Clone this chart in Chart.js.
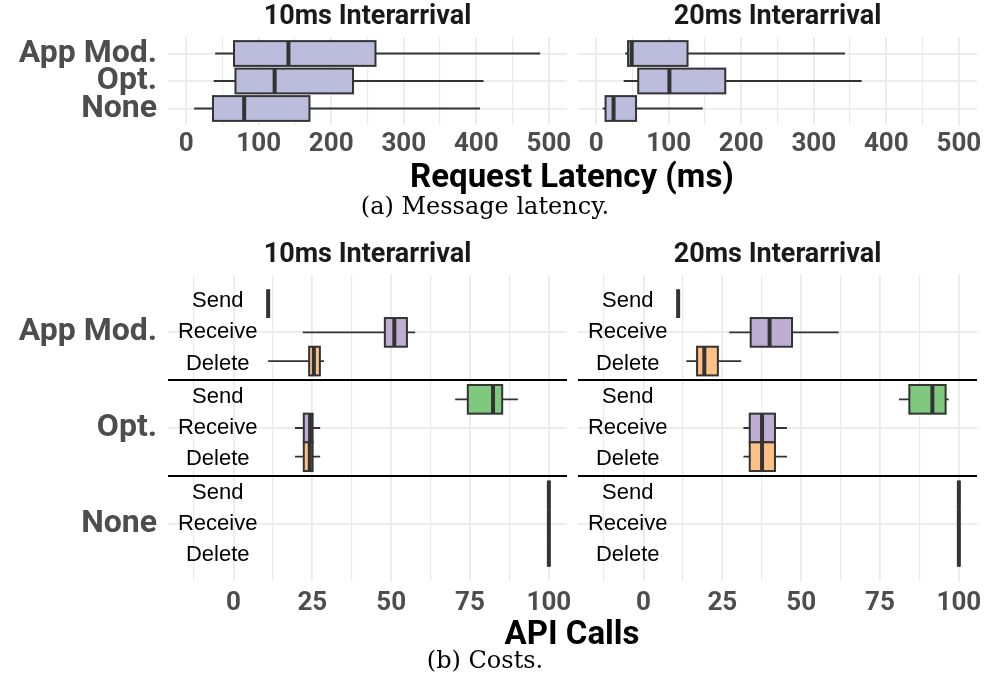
<!DOCTYPE html>
<html>
<head>
<meta charset="utf-8">
<title>Latency and API calls</title>
<script src="https://cdn.jsdelivr.net/npm/chart.js@4.4.1/dist/chart.umd.min.js"></script>
<style>
  body { margin: 0; background: #fff; width: 992px; height: 675px; position: relative; overflow: hidden; }
  canvas { position: absolute; }
  .txt { position: absolute; transform: translate(-50%, -50%); white-space: nowrap; }
  .axis-title { font: 700 33px Roboto, sans-serif; color: #000; }
  .caption { font: 24px "DejaVu Serif", serif; color: #000; }
</style>
</head>
<body>
<canvas id="lat10" width="572" height="165" style="left:0;top:0"></canvas>
<canvas id="lat20" width="420" height="165" style="left:572px;top:0"></canvas>
<div class="txt axis-title" style="left:572px;top:175px">Request Latency (ms)</div>
<div class="txt caption" style="left:485px;top:206px">(a) Message latency.</div>

<canvas id="api10" width="572" height="383" style="left:0;top:238px"></canvas>
<canvas id="api20" width="420" height="383" style="left:572px;top:238px"></canvas>
<div class="txt axis-title" style="left:572px;top:632px">API Calls</div>
<div class="txt caption" style="left:485px;top:660px">(b) Costs.</div>

<script>
const groups = ['App Mod.', 'Opt.', 'None'];
const calls = ['Send', 'Receive', 'Delete'];
const callColors = ['#7fc97f', '#beaed4', '#fdc086'];

// box stats: [lower whisker, q1, median, q3, upper whisker], one row per group
const latency10 = [
  [40, 66, 141, 261, 488],
  [38, 68, 122, 230, 410],
  [11, 37, 80, 170, 405]
];
const latency20 = [
  [40, 44, 49, 126, 343],
  [38, 58, 101, 178, 366],
  [9, 13, 24, 55, 147]
];

// per group: Send, Receive, Delete
const apiCalls10 = [
  [[11, 11, 11, 11, 11], [22, 48, 51, 55, 57.6], [11, 24, 25.5, 27.4, 28.7]],
  [[70.3, 74.3, 82.3, 85.2, 90.2], [19.5, 22.3, 24.3, 25.1, 27.5], [19.5, 22.3, 24.2, 25.1, 27.5]],
  [[100, 100, 100, 100, 100], [100, 100, 100, 100, 100], [100, 100, 100, 100, 100]]
];
const apiCalls20 = [
  [[11, 11, 11, 11, 11], [27.2, 34, 40, 47.1, 61.9], [13.6, 17, 19.3, 23.6, 31]],
  [[81, 84.3, 91.6, 95.8, 96.8], [31.7, 33.7, 37.6, 41.7, 45.5], [31.7, 33.7, 37.6, 41.7, 45.5]],
  [[100, 100, 100, 100, 100], [100, 100, 100, 100, 100], [100, 100, 100, 100, 100]]
];

const latencyTicks = [0, 100, 200, 300, 400, 500];
const callTicks = [0, 25, 50, 75, 100];

const BOLD = 'Roboto, sans-serif';
const GRID = '#ebebeb';

// draws box-and-whisker rows, group separators and row labels on top of the grid
function boxLayer(rows, extra) {
  return {
    id: 'boxLayer',
    beforeDatasetsDraw(chart) {
      const { ctx, chartArea: area, scales: { x, y } } = chart;
      const px = v => x.getPixelForValue(v);
      ctx.save();

      (extra.separators || []).forEach(v => {
        const py = Math.round(y.getPixelForValue(v));
        ctx.strokeStyle = '#000';
        ctx.lineWidth = 2;
        ctx.beginPath();
        ctx.moveTo(area.left, py);
        ctx.lineTo(area.right, py);
        ctx.stroke();
      });

      rows.forEach(r => {
        const [lo, q1, med, q3, hi] = r.stats;
        const yc = y.getPixelForValue(r.pos);
        const yt = y.getPixelForValue(r.pos + r.half);
        const yb = y.getPixelForValue(r.pos - r.half);
        ctx.strokeStyle = '#333';
        ctx.lineWidth = 1.8;
        ctx.beginPath();
        ctx.moveTo(px(lo), yc); ctx.lineTo(px(q1), yc);
        ctx.moveTo(px(q3), yc); ctx.lineTo(px(hi), yc);
        ctx.stroke();

        ctx.fillStyle = r.fill;
        ctx.fillRect(px(q1), yt, px(q3) - px(q1), yb - yt);
        ctx.lineWidth = 2;
        ctx.strokeRect(px(q1), yt, px(q3) - px(q1), yb - yt);

        ctx.lineWidth = 4;
        ctx.beginPath();
        ctx.moveTo(px(med), yt);
        ctx.lineTo(px(med), yb);
        ctx.stroke();
      });

      (extra.labels || []).forEach(l => {
        ctx.fillStyle = '#000';
        ctx.font = '22px "Liberation Sans", Arial, sans-serif';
        ctx.textAlign = 'center';
        ctx.textBaseline = 'middle';
        ctx.fillText(l.text, px(l.x), y.getPixelForValue(l.y));
      });
      ctx.restore();
    }
  };
}

// grid positions: every major tick plus the midpoints between them
function gridValues(majors, min, max) {
  const step = majors[1] - majors[0];
  const vals = [];
  for (let v = majors[0] - step / 2; v <= max; v += step / 2) {
    if (v >= min) vals.push(v);
  }
  return vals;
}

function makeChart(id, opts) {
  const { title, majors, min, max, rows, extra, showGroups, yWidth, padRight, tickPad } = opts;
  const grid = gridValues(majors, min, max);
  new Chart(document.getElementById(id), {
    type: 'scatter',
    data: { datasets: [] },
    options: {
      responsive: false,
      animation: false,
      events: [],
      layout: { padding: { left: 0, right: padRight, top: 0, bottom: 0 } },
      scales: {
        x: {
          type: 'linear',
          min: min,
          max: max,
          afterBuildTicks: s => { s.ticks = grid.map(v => ({ value: v })); },
          afterFit: s => { s.height = 40; s.paddingLeft = 0; s.paddingRight = 0; },
          ticks: {
            autoSkip: false,
            maxRotation: 0,
            padding: tickPad,
            color: '#4d4d4d',
            font: { family: BOLD, size: 26, weight: 'bold' },
            callback: v => (majors.includes(v) ? String(v) : '')
          },
          grid: {
            color: GRID,
            drawTicks: false,
            lineWidth: c => (c.tick && majors.includes(c.tick.value) ? 1.8 : 1.2)
          },
          border: { display: false }
        },
        y: {
          type: 'linear',
          min: 0.4,
          max: 3.6,
          afterBuildTicks: s => { s.ticks = [1, 2, 3].map(v => ({ value: v })); },
          afterFit: s => { s.width = yWidth; s.paddingTop = 0; s.paddingBottom = 0; },
          ticks: {
            display: showGroups,
            autoSkip: false,
            padding: 11,
            color: '#4d4d4d',
            font: { family: BOLD, size: 32, weight: 'bold' },
            callback: v => groups[3 - v]
          },
          grid: { color: GRID, lineWidth: 1.8, drawTicks: false },
          border: { display: false }
        }
      },
      plugins: {
        legend: { display: false },
        tooltip: { enabled: false },
        title: {
          display: true,
          text: title,
          fullSize: false,
          color: '#1a1a1a',
          font: { family: BOLD, size: 27, weight: 'bold' },
          padding: { top: 1, bottom: 3.6 }
        }
      }
    },
    plugins: [boxLayer(rows, extra)]
  });
}

function latencyRows(stats) {
  return stats.map((s, i) => ({ stats: s, pos: 3 - i, half: 0.45, fill: '#bcbddc' }));
}

function callRows(stats) {
  const rows = [];
  stats.forEach((grp, i) => grp.forEach((s, j) => {
    rows.push({ stats: s, pos: 3 - i + (1 - j) * 0.3, half: 0.15, fill: callColors[j] });
  }));
  return rows;
}

const callLabels = [];
groups.forEach((g, i) => calls.forEach((c, j) => {
  callLabels.push({ text: c, x: -5, y: 3 - i + (1 - j) * 0.325 });
}));

makeChart('lat10', {
  title: '10ms Interarrival', majors: latencyTicks, min: -25, max: 525,
  rows: latencyRows(latency10), extra: {}, showGroups: true, yWidth: 168, padRight: 5, tickPad: 4
});
makeChart('lat20', {
  title: '20ms Interarrival', majors: latencyTicks, min: -25, max: 525,
  rows: latencyRows(latency20), extra: {}, showGroups: false, yWidth: 6, padRight: 15, tickPad: 4
});
makeChart('api10', {
  title: '10ms Interarrival', majors: callTicks, min: -20.75, max: 105.75,
  rows: callRows(apiCalls10), extra: { separators: [2.5, 1.5], labels: callLabels },
  showGroups: true, yWidth: 168, padRight: 5, tickPad: 7
});
makeChart('api20', {
  title: '20ms Interarrival', majors: callTicks, min: -20.75, max: 105.75,
  rows: callRows(apiCalls20), extra: { separators: [2.5, 1.5], labels: callLabels },
  showGroups: false, yWidth: 6, padRight: 15, tickPad: 7
});
</script>
</body>
</html>
